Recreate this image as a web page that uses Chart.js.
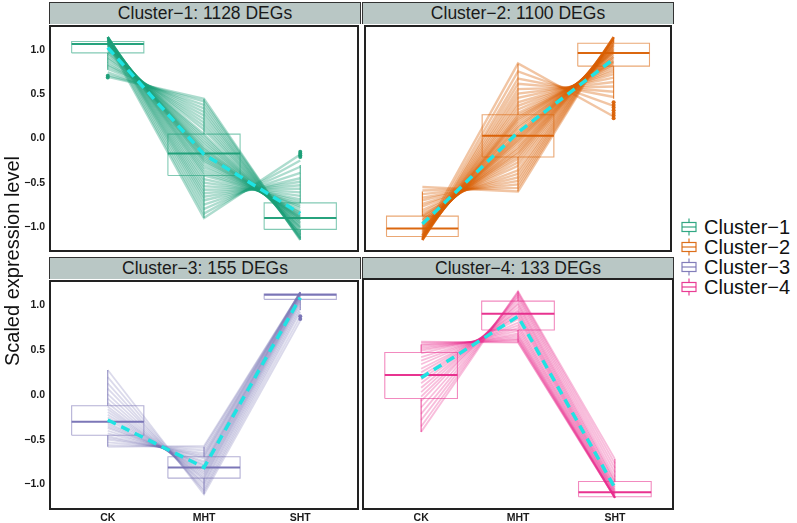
<!DOCTYPE html>
<html><head><meta charset="utf-8">
<script src="https://cdn.jsdelivr.net/npm/chart.js@4.4.1/dist/chart.umd.min.js"></script>
<style>
html,body{margin:0;padding:0;background:#fff;}
#wrap{position:relative;width:797px;height:523px;overflow:hidden;background:#fff;font-family:"Liberation Sans",Arial,Helvetica,sans-serif;}
canvas{position:absolute;}
.strip{position:absolute;box-sizing:border-box;background:#b9c7c5;border:1px solid #333;border-bottom:none;text-align:center;font-size:17.5px;color:#1a1a1a;}
.ytitle{position:absolute;width:300px;height:24px;line-height:24px;text-align:center;font-size:20px;color:#111;transform:rotate(-90deg);}
.leg{position:absolute;left:679px;height:22px;line-height:22px;font-size:20px;color:#111;white-space:nowrap;}
.leg svg{position:absolute;left:0;top:2px;}
.leg span{position:absolute;left:25px;top:0;}
</style></head>
<body><div id="wrap"></div>
<script>
// ---------- data ----------
const conditions = ['CK', 'MHT', 'SHT'];
const clusterNames = ['Cluster\u22121', 'Cluster\u22122', 'Cluster\u22123', 'Cluster\u22124'];
const clusterDEGs = [1128, 1100, 155, 133];
const yTicks = [-1.0, -0.5, 0.0, 0.5, 1.0];

// each gene: [CK, MHT, SHT] scaled expression
const genes1 = [[0.70,0.45,-1.15],[0.72,0.42,-1.14],[0.75,0.38,-1.13],[0.79,0.34,-1.13],[0.82,0.30,-1.12],[0.84,0.26,-1.10],[0.87,0.22,-1.09],[0.90,0.18,-1.08],[0.92,0.14,-1.06],[0.95,0.10,-1.05],[0.97,0.05,-1.02],[0.99,0.02,-1.01],[1.01,-0.01,-1.00],[1.02,-0.04,-0.98],[1.03,-0.07,-0.96],[1.05,-0.10,-0.95],[1.05,-0.12,-0.93],[1.06,-0.14,-0.92],[1.07,-0.16,-0.91],[1.07,-0.17,-0.90],[1.08,-0.19,-0.89],[1.09,-0.21,-0.88],[1.10,-0.23,-0.87],[1.10,-0.25,-0.85],[1.11,-0.27,-0.84],[1.12,-0.30,-0.82],[1.12,-0.33,-0.79],[1.13,-0.36,-0.77],[1.14,-0.39,-0.75],[1.14,-0.42,-0.72],[1.15,-0.46,-0.69],[1.15,-0.50,-0.65],[1.15,-0.54,-0.61],[1.15,-0.58,-0.57],[1.15,-0.62,-0.53],[1.15,-0.66,-0.49],[1.15,-0.70,-0.45],[1.14,-0.75,-0.39],[1.12,-0.80,-0.32],[1.10,-0.85,-0.25],[1.08,-0.90,-0.18]];
const genes2 = [[-0.55,-0.60,1.15],[-0.59,-0.56,1.15],[-0.63,-0.52,1.15],[-0.67,-0.48,1.15],[-0.70,-0.44,1.14],[-0.74,-0.40,1.14],[-0.77,-0.36,1.13],[-0.81,-0.31,1.12],[-0.84,-0.27,1.11],[-0.87,-0.23,1.10],[-0.88,-0.20,1.08],[-0.90,-0.17,1.07],[-0.92,-0.15,1.07],[-0.93,-0.12,1.05],[-0.95,-0.10,1.05],[-0.96,-0.07,1.03],[-0.98,-0.04,1.02],[-0.99,-0.02,1.01],[-1.00,0.00,1.00],[-1.01,0.02,0.99],[-1.02,0.04,0.98],[-1.03,0.06,0.97],[-1.04,0.09,0.95],[-1.05,0.12,0.93],[-1.06,0.14,0.92],[-1.07,0.17,0.90],[-1.08,0.20,0.88],[-1.09,0.22,0.87],[-1.10,0.24,0.86],[-1.10,0.26,0.84],[-1.11,0.29,0.82],[-1.12,0.33,0.79],[-1.13,0.37,0.76],[-1.14,0.41,0.73],[-1.15,0.46,0.69],[-1.15,0.51,0.64],[-1.15,0.56,0.59],[-1.15,0.62,0.53],[-1.15,0.68,0.47],[-1.13,0.76,0.37],[-1.10,0.85,0.25]];
const genes3 = [[-0.58,-0.57,1.15],[-0.56,-0.59,1.15],[-0.53,-0.62,1.15],[-0.50,-0.65,1.15],[-0.48,-0.67,1.15],[-0.46,-0.69,1.15],[-0.43,-0.71,1.14],[-0.40,-0.74,1.14],[-0.37,-0.76,1.13],[-0.35,-0.78,1.13],[-0.33,-0.79,1.12],[-0.31,-0.81,1.12],[-0.28,-0.83,1.11],[-0.25,-0.85,1.10],[-0.22,-0.87,1.09],[-0.19,-0.89,1.08],[-0.16,-0.91,1.07],[-0.13,-0.93,1.06],[-0.09,-0.95,1.04],[-0.04,-0.98,1.02],[0.01,-1.00,0.99],[0.07,-1.03,0.96],[0.13,-1.06,0.93],[0.20,-1.08,0.88],[0.28,-1.11,0.83]];
const genes4 = [[-0.42,1.14,-0.72],[-0.36,1.13,-0.77],[-0.29,1.11,-0.82],[-0.22,1.09,-0.87],[-0.15,1.07,-0.92],[-0.08,1.04,-0.96],[-0.03,1.01,-0.98],[0.02,0.99,-1.01],[0.07,0.96,-1.03],[0.12,0.93,-1.05],[0.16,0.91,-1.07],[0.20,0.88,-1.08],[0.24,0.86,-1.10],[0.28,0.83,-1.11],[0.33,0.79,-1.12],[0.37,0.76,-1.13],[0.41,0.73,-1.14],[0.45,0.70,-1.15],[0.48,0.67,-1.15],[0.50,0.65,-1.15],[0.52,0.63,-1.15],[0.54,0.61,-1.15],[0.55,0.60,-1.15],[0.57,0.58,-1.15],[0.58,0.57,-1.15]];

// cluster mean trajectories [CK, MHT, SHT]
const mean1 = [1.03, -0.18, -0.85];
const mean2 = [-0.97, 0.07, 0.90];
const mean3 = [-0.28, -0.81, 1.09];
const mean4 = [0.18, 0.86, -1.04];

// boxplot stats per condition: [whiskerLow, Q1, median, Q3, whiskerHigh]
const box1 = [[0.78,0.97,1.07,1.10,1.15],[-0.90,-0.42,-0.17,0.05,0.45],[-1.15,-1.03,-0.90,-0.73,-0.30]];
const box2 = [[-1.15,-1.11,-1.02,-0.88,-0.60],[-0.60,-0.21,0.03,0.27,0.85],[0.45,0.82,0.97,1.08,1.15]];
const box3 = [[-0.58,-0.45,-0.30,-0.12,0.28],[-1.11,-0.93,-0.81,-0.69,-0.58],[0.95,1.07,1.12,1.13,1.15]];
const box4 = [[-0.42,-0.05,0.21,0.46,0.55],[0.57,0.71,0.89,1.03,1.14],[-1.15,-1.14,-1.09,-0.97,-0.72]];

// outliers: [condition index, value]
const out1 = [[0,0.69],[0,0.71],[2,-0.15],[2,-0.17],[2,-0.19],[2,-0.21]];
const out2 = [[2,0.23],[2,0.26],[2,0.29],[2,0.32],[2,0.35],[2,0.38],[2,0.41]];
const out3 = [[2,0.85],[2,0.88]];
const out4 = [];

// ---------- styles ----------
const rgb = [[27,158,119],[217,95,2],[117,112,179],[231,41,138]];
const lineAlpha = [0.36, 0.36, 0.26, 0.3];
const lineWidth = [2.4, 2.4, 1.8, 1.8];
const meanColor = '#1fe3e3';
const BOX_HALF = 0.375;

const wrap = document.getElementById('wrap');
const col = (c, a) => `rgba(${c[0]},${c[1]},${c[2]},${a})`;

const borderPlugin = {
  id: 'panelBorder',
  afterDraw(chart) {
    const a = chart.chartArea, ctx = chart.ctx;
    ctx.save();
    ctx.strokeStyle = '#222';
    ctx.lineWidth = 2;
    ctx.strokeRect(a.left, a.top, a.right - a.left, a.bottom - a.top);
    ctx.restore();
  }
};

const panels = [
  {genes: genes1, mean: mean1, box: box1, out: out1, x0: 50, y0: 24, x1: 360, y1: 253, showY: true, showX: false},
  {genes: genes2, mean: mean2, box: box2, out: out2, x0: 363, y0: 24, x1: 673, y1: 253, showY: false, showX: false},
  {genes: genes3, mean: mean3, box: box3, out: out3, x0: 50, y0: 279, x1: 360, y1: 509, showY: true, showX: true},
  {genes: genes4, mean: mean4, box: box4, out: out4, x0: 363, y0: 279, x1: 673, y1: 509, showY: false, showX: true}
];

panels.forEach((p, k) => {
  const c = rgb[k];
  // strip header
  const strip = document.createElement('div');
  strip.className = 'strip';
  strip.style.left = (p.x0 - 1) + 'px';
  strip.style.width = (p.x1 - p.x0 + 2) + 'px';
  strip.style.top = (p.y0 - 22) + 'px';
  strip.style.height = '22px';
  strip.style.lineHeight = '21px';
  strip.textContent = clusterNames[k] + ': ' + clusterDEGs[k] + ' DEGs';
  wrap.appendChild(strip);

  const yAxisW = p.showY ? 50 : 0;
  const padL = p.showY ? 0 : 2;
  const xAxisH = p.showX ? 14 : 0;
  const padB = p.showX ? 0 : 2;
  const cv = document.createElement('canvas');
  const W = (p.x1 - p.x0) + yAxisW + padL + 2;
  const H = (p.y1 - p.y0) + 2 + xAxisH + padB;
  cv.width = W; cv.height = H;
  cv.style.width = W + 'px'; cv.style.height = H + 'px';
  cv.style.left = (p.x0 - yAxisW - padL) + 'px';
  cv.style.top = (p.y0 - 2) + 'px';
  wrap.appendChild(cv);

  const datasets = [];
  // mean line (top-most)
  datasets.push({
    type: 'line', order: 0,
    data: p.mean.map((v, i) => ({x: i, y: v})),
    borderColor: meanColor, borderWidth: 3.5, borderDash: [9, 6],
    pointRadius: 0, fill: false
  });
  // outliers
  datasets.push({
    type: 'line', order: 1, showLine: false,
    data: p.out.map(o => ({x: o[0], y: o[1]})),
    pointRadius: 2, pointBorderWidth: 0, pointBackgroundColor: col(c, 0.95)
  });
  // boxes
  const outline = [], whisk = [], med = [];
  p.box.forEach((b, i) => {
    const [lo, q1, md, q3, hi] = b;
    outline.push({x: i - BOX_HALF, y: q1}, {x: i + BOX_HALF, y: q1}, {x: i + BOX_HALF, y: q3}, {x: i - BOX_HALF, y: q3}, {x: i - BOX_HALF, y: q1}, {x: i, y: null});
    whisk.push({x: i, y: q3}, {x: i, y: hi}, {x: i, y: null}, {x: i, y: q1}, {x: i, y: lo}, {x: i, y: null});
    med.push({x: i - BOX_HALF, y: md}, {x: i + BOX_HALF, y: md}, {x: i, y: null});
  });
  datasets.push({type: 'line', order: 2, data: med, borderColor: col(c, 0.95), borderWidth: 2, pointRadius: 0, spanGaps: false});
  datasets.push({type: 'line', order: 3, data: outline, borderColor: col(c, 0.55), borderWidth: 1.1, pointRadius: 0, spanGaps: false});
  datasets.push({type: 'line', order: 3, data: whisk, borderColor: col(c, 0.8), borderWidth: 1.1, pointRadius: 0, spanGaps: false});
  // gene trajectories
  p.genes.forEach(g => {
    datasets.push({
      type: 'line', order: 5,
      data: g.map((v, i) => ({x: i, y: v})),
      borderColor: col(c, lineAlpha[k]), borderWidth: lineWidth[k], pointRadius: 0, fill: false,
      borderJoinStyle: 'miter', borderCapStyle: 'butt'
    });
  });

  new Chart(cv, {
    type: 'line',
    data: {datasets},
    options: {
      responsive: false, animation: false, devicePixelRatio: 1,
      layout: {padding: {left: padL, right: 2, top: 2, bottom: padB}},
      plugins: {legend: {display: false}, tooltip: {enabled: false}, title: {display: false}},
      elements: {line: {tension: 0}},
      scales: {
        x: {
          type: 'linear', min: -0.6, max: 2.6, display: p.showX,
          grid: {display: false, drawTicks: false}, border: {display: false},
          afterBuildTicks: ax => { ax.ticks = conditions.map((_, i) => ({value: i})); },
          afterFit: ax => { ax.height = p.showX ? 14 : 0; ax.paddingLeft = 0; ax.paddingRight = 0; },
          ticks: {
            padding: 3, color: '#1a1a1a', maxRotation: 0, autoSkip: false,
            font: {family: '"Liberation Sans", Arial, sans-serif', size: 10.5, weight: 'bold'},
            callback: v => conditions[v]
          }
        },
        y: {
          type: 'linear', min: -1.275, max: 1.275, display: p.showY,
          grid: {display: false, drawTicks: false}, border: {display: false},
          afterBuildTicks: ax => { ax.ticks = yTicks.map(v => ({value: v})); },
          afterFit: ax => { ax.width = p.showY ? 50 : 0; ax.paddingTop = 0; ax.paddingBottom = 0; },
          ticks: {
            padding: 5, color: '#1a1a1a', autoSkip: false,
            font: {family: '"Liberation Sans", Arial, sans-serif', size: 10.5, weight: 'bold'},
            callback: v => (v < 0 ? '\u2212' : '') + Math.abs(v).toFixed(1)
          }
        }
      }
    },
    plugins: [borderPlugin]
  });
});

// y axis title
const yt = document.createElement('div');
yt.className = 'ytitle';
yt.textContent = 'Scaled expression level';
yt.style.left = (12 - 150) + 'px';
yt.style.top = (261 - 12) + 'px';
wrap.appendChild(yt);

// legend
const legendY = [227, 247, 267, 287];
clusterNames.forEach((name, k) => {
  const d = document.createElement('div');
  d.className = 'leg';
  d.style.top = (legendY[k] - 11) + 'px';
  const s = col(rgb[k], 0.9);
  d.innerHTML = `<svg width="20" height="18" viewBox="0 0 20 18"><line x1="10" y1="0.5" x2="10" y2="17.5" stroke="${s}" stroke-width="1.2"/><rect x="3" y="4.5" width="14" height="9" fill="#fff" stroke="${s}" stroke-width="1.2"/><line x1="3" y1="9" x2="17" y2="9" stroke="${s}" stroke-width="1.2"/></svg><span>${name}</span>`;
  wrap.appendChild(d);
});
</script>
</body></html>
